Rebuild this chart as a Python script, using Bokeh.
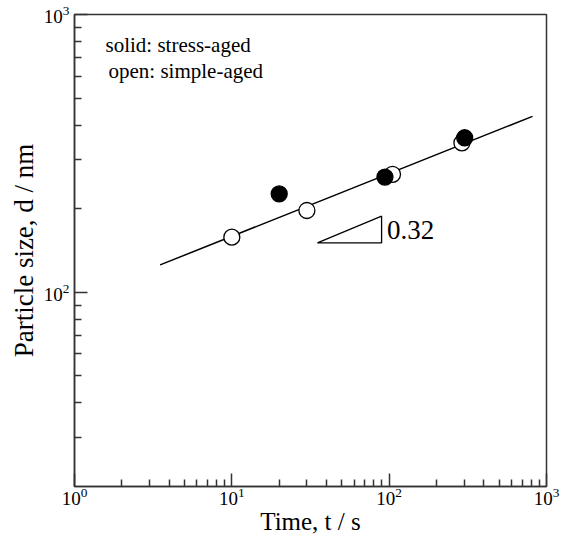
from bokeh.plotting import figure
from bokeh.models import FixedTicker, LogTickFormatter, Label
from bokeh.embed import file_html
from bokeh.resources import INLINE

# ---- data ----
open_t = [10, 30, 105, 290]
open_d = [158, 197, 266, 345]
solid_t = [20, 94, 302]
solid_d = [226, 260, 360]
fit_t = [3.5, 815]
fit_d = [125.5, 430]
tri_t = [35, 89.5, 89.5]
tri_d = [150.6, 150.6, 188]
slope_label = "0.32"
slope_label_t = 97
slope_label_d = 168
x_major = [1, 10, 100, 1000]
x_minor = [k * 10 ** e for e in range(3) for k in range(2, 10)]
y_major = [100, 1000]
y_minor = [k * 10 for k in range(3, 10)] + [k * 100 for k in range(2, 10)]

SERIF = "Liberation Serif"

p = figure(frame_width=472, frame_height=472, x_axis_type="log", y_axis_type="log",
           x_range=(1, 1000), y_range=(20, 1000),
           output_backend="svg", toolbar_location=None,
           min_border_left=74, min_border_top=14, min_border_right=15, min_border_bottom=46)
p.grid.visible = False
p.outline_line_color = "#333333"
p.outline_line_width = 1.5
p.background_fill_color = "white"
p.border_fill_color = "white"

for ax, maj, mnr in ((p.xaxis, x_major, x_minor), (p.yaxis, y_major, y_minor)):
    ax.ticker = FixedTicker(ticks=maj, minor_ticks=mnr)
    ax.formatter = LogTickFormatter()
    ax.major_tick_in = 13
    ax.major_tick_out = 0
    ax.minor_tick_in = 7
    ax.minor_tick_out = 0
    ax.axis_line_color = "#333333"
    ax.axis_line_width = 1.5
    ax.major_tick_line_color = "#333333"
    ax.major_tick_line_width = 1.5
    ax.minor_tick_line_color = "#333333"
    ax.minor_tick_line_width = 1.5
    ax.major_label_text_font = SERIF
    ax.major_label_text_font_size = "19px"
    ax.major_label_text_color = "black"
    ax.axis_label_text_font = SERIF
    ax.axis_label_text_font_style = "normal"
    ax.axis_label_text_color = "black"

p.xaxis.major_label_standoff = 1
p.yaxis.major_label_standoff = 5
p.xaxis.axis_label = "Time, t / s"
p.xaxis.axis_label_text_font_size = "25px"
p.xaxis.axis_label_standoff = 0
p.yaxis.axis_label = "Particle size, d / nm"
p.yaxis.axis_label_text_font_size = "27px"
p.yaxis.axis_label_standoff = 2

# fitted line
p.line(fit_t, fit_d, line_color="black", line_width=1.5)
# slope triangle
p.patch(tri_t, tri_d, fill_alpha=0, line_color="black", line_width=1.3)
# markers
p.scatter(open_t, open_d, marker="circle", size=16, fill_color="white",
          line_color="black", line_width=1.3)
p.scatter(solid_t, solid_d, marker="circle", size=16, fill_color="black",
          line_color="black", line_width=1.3)

p.add_layout(Label(x=slope_label_t, y=slope_label_d, text=slope_label, text_font=SERIF,
                   text_font_size="27px", text_baseline="middle", text_align="left",
                   text_color="black"))

# legend text
p.add_layout(Label(x=31, y=442, x_units="screen", y_units="screen", text="solid: stress-aged",
                   text_font=SERIF, text_font_size="21px", text_baseline="middle",
                   text_color="black"))
p.add_layout(Label(x=34, y=416, x_units="screen", y_units="screen", text="open: simple-aged",
                   text_font=SERIF, text_font_size="21px", text_baseline="middle",
                   text_color="black"))

open("out.html", "w").write(file_html(p, INLINE))
